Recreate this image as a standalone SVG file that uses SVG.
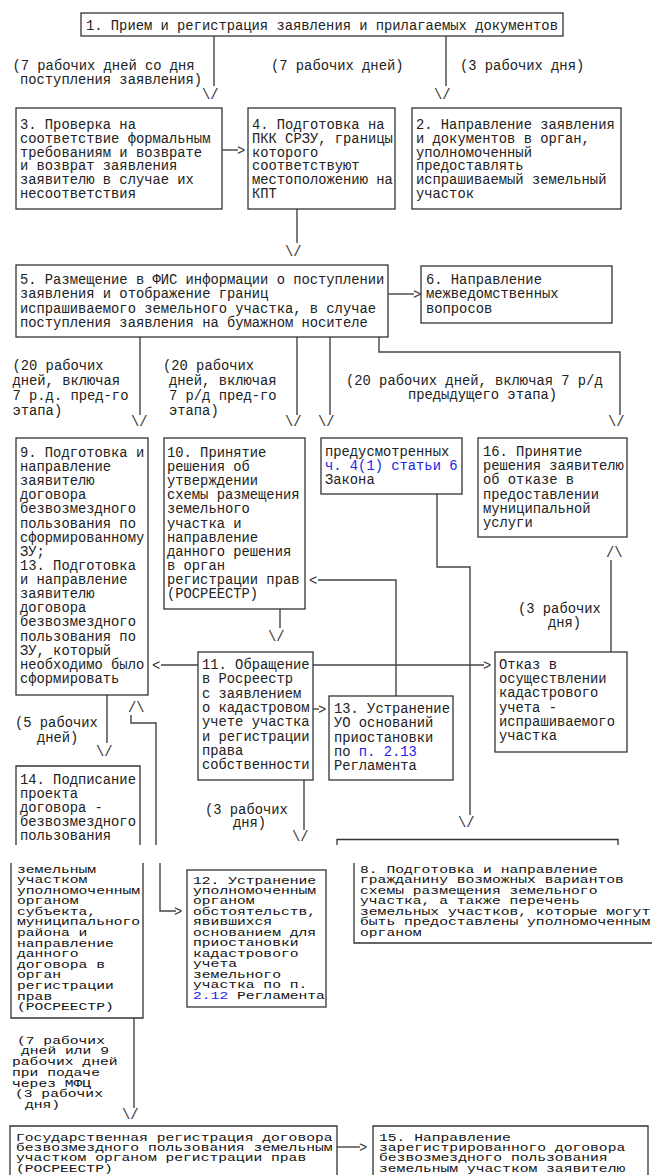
<svg xmlns="http://www.w3.org/2000/svg" width="652" height="1175" viewBox="0 0 652 1175">
<defs>
<style>
.t{font-family:"Liberation Mono","Courier New",monospace;font-size:13.8px;fill:#222}
.lo{font-family:"Liberation Mono","Courier New",monospace;font-size:11px;fill:#111}
.bl{fill:#2323e8}
.box{fill:#fff;stroke:#333;stroke-width:1.3}
.ob{fill:none;stroke:#333;stroke-width:1.3}
.ln{fill:none;stroke:#444;stroke-width:1.4}
.ah{font-family:"Liberation Mono","Courier New",monospace;font-size:13.8px;fill:#333}
</style>
<clipPath id="lowpage"><rect x="0" y="864" width="652" height="311"/></clipPath>
</defs>
<rect width="652" height="1175" fill="#fff"/>

<g id="connectors">
<line class="ln" x1="214" y1="36" x2="214" y2="86"/>
<text class="ah" x="202" y="99">\/</text>
<line class="ln" x1="446" y1="36" x2="446" y2="86"/>
<text class="ah" x="434" y="99">\/</text>
<line class="ln" x1="222" y1="150" x2="238" y2="150"/>
<text class="ah" x="237" y="154.5">&gt;</text>
<line class="ln" x1="297" y1="209" x2="297" y2="243"/>
<text class="ah" x="285" y="256">\/</text>
<line class="ln" x1="388" y1="294" x2="414" y2="294"/>
<text class="ah" x="413" y="298.5">&gt;</text>
<line class="ln" x1="140" y1="337" x2="140" y2="415"/>
<text class="ah" x="131" y="426">\/</text>
<line class="ln" x1="297" y1="337" x2="297" y2="415"/>
<text class="ah" x="285" y="426">\/</text>
<line class="ln" x1="330" y1="337" x2="330" y2="415"/>
<text class="ah" x="318" y="426">\/</text>
<polyline class="ln" points="379,337 379,352 620,352 620,415"/>
<text class="ah" x="608" y="426">\/</text>
<line class="ln" x1="280" y1="609" x2="280" y2="628"/>
<text class="ah" x="268" y="641">\/</text>
<polyline class="ln" points="437,494 437,567 470,567 470,815"/>
<text class="ah" x="458" y="827">\/</text>
<polyline class="ln" points="396,696 396,580 318,580"/>
<text class="ah" x="309" y="584.5">&lt;</text>
<line class="ln" x1="611" y1="652" x2="611" y2="560"/>
<text class="ah" x="606" y="557">/\</text>
<line class="ln" x1="161" y1="665" x2="198" y2="665"/>
<text class="ah" x="152" y="669.5">&lt;</text>
<line class="ln" x1="313" y1="665" x2="484" y2="665"/>
<text class="ah" x="483" y="669.5">&gt;</text>
<line class="ln" x1="313" y1="709" x2="319" y2="709"/>
<text class="ah" x="318" y="713.5">&gt;</text>
<line class="ln" x1="107" y1="695" x2="107" y2="743"/>
<text class="ah" x="96" y="756">\/</text>
<text class="ah" x="128" y="712">/\</text>
<polyline class="ln" points="131,715 131,723 156,723 156,845"/>
<polyline class="ln" points="160,863 160,911 176,911"/>
<text class="ah" x="174" y="915.5">&gt;</text>
<line class="ln" x1="304" y1="780" x2="304" y2="830"/>
<text class="ah" x="292" y="841">\/</text>
<line class="ln" x1="134" y1="1018" x2="134" y2="1108"/>
<text class="ah" x="122" y="1119">\/</text>
<line class="ln" x1="337" y1="1147" x2="360" y2="1147"/>
<text class="ah" x="359" y="1151.5">&gt;</text>
</g>

<g id="labels">
<text class="t" x="12.5" y="69.5">(7 рабочих дней со дня<tspan x="20" dy="14.5">поступления заявления)</tspan></text>
<text class="t" x="271" y="69.5">(7 рабочих дней)</text>
<text class="t" x="460" y="69.5">(3 рабочих дня)</text>
<text class="t" x="12.5" y="369.5">(20 рабочих<tspan x="12.5" dy="15">дней, включая</tspan><tspan x="12.5" dy="15">7 р.д. пред-го</tspan><tspan x="12.5" dy="15">этапа)</tspan></text>
<text class="t" x="163" y="369.5">(20 рабочих<tspan x="169" dy="15">дней, включая</tspan><tspan x="169" dy="15">7 р/д пред-го</tspan><tspan x="169" dy="15">этапа)</tspan></text>
<text class="t" x="346" y="385">(20 рабочих дней, включая 7 р/д<tspan x="408" dy="14">предыдущего этапа)</tspan></text>
<text class="t" x="518" y="613">(3 рабочих<tspan x="548" dy="14">дня)</tspan></text>
<text class="t" x="15" y="727">(5 рабочих<tspan x="37" dy="15">дней)</tspan></text>
<text class="t" x="205" y="814">(3 рабочих<tspan x="233" dy="13">дня)</tspan></text>
<text class="lo" transform="translate(12,1043.5) scale(1.333,1)"><tspan x="3.75" y="0">(7 рабочих</tspan><tspan x="6.75" dy="10.8">дней или 9</tspan><tspan x="0" dy="10.8">рабочих дней</tspan><tspan x="0" dy="10.8">при подаче</tspan><tspan x="0" dy="10.8">через МФЦ</tspan><tspan x="2.25" dy="10.8">(3 рабочих</tspan><tspan x="9.75" dy="10.8">дня)</tspan></text>
</g>

<g id="n1">
<rect class="box" x="81" y="13" width="482" height="23"/>
<text class="t" x="86" y="29.7">1. Прием и регистрация заявления и прилагаемых документов</text>
</g>

<g id="n3">
<rect class="box" x="16" y="108" width="206" height="101"/>
<text class="t" x="20" y="129">3. Проверка на<tspan x="20" dy="13.8">соответствие формальным</tspan><tspan x="20" dy="13.8">требованиям и возврате</tspan><tspan x="20" dy="13.8">и возврат заявления</tspan><tspan x="20" dy="13.8">заявителю в случае их</tspan><tspan x="20" dy="13.8">несоответствия</tspan></text>
</g>

<g id="n4">
<rect class="box" x="248" y="108" width="147" height="101"/>
<text class="t" x="252" y="129">4. Подготовка на<tspan x="252" dy="13.8">ПКК СРЗУ, границы</tspan><tspan x="252" dy="13.8">которого</tspan><tspan x="252" dy="13.8">соответствуют</tspan><tspan x="252" dy="13.8">местоположению на</tspan><tspan x="252" dy="13.8">КПТ</tspan></text>
</g>

<g id="n2">
<rect class="box" x="412" y="108" width="209" height="101"/>
<text class="t" x="416" y="129">2. Направление заявления<tspan x="416" dy="13.8">и документов в орган,</tspan><tspan x="416" dy="13.8">уполномоченный</tspan><tspan x="416" dy="13.8">предоставлять</tspan><tspan x="416" dy="13.8">испрашиваемый земельный</tspan><tspan x="416" dy="13.8">участок</tspan></text>
</g>

<g id="n5">
<rect class="box" x="16" y="265" width="372" height="72"/>
<text class="t" x="20" y="284">5. Размещение в ФИС информации о поступлении<tspan x="20" dy="14.3">заявления и отображение границ</tspan><tspan x="20" dy="14.3">испрашиваемого земельного участка, в случае</tspan><tspan x="20" dy="14.3">поступления заявления на бумажном носителе</tspan></text>
</g>

<g id="n6">
<rect class="box" x="421" y="266" width="191" height="57"/>
<text class="t" x="426" y="284">6. Направление<tspan x="426" dy="14.3">межведомственных</tspan><tspan x="426" dy="14.3">вопросов</tspan></text>
</g>

<g id="n9">
<rect class="box" x="16" y="438" width="132" height="257"/>
<text class="t" x="20" y="457">9. Подготовка и<tspan x="20" dy="14.12">направление</tspan><tspan x="20" dy="14.12">заявителю</tspan><tspan x="20" dy="14.12">договора</tspan><tspan x="20" dy="14.12">безвозмездного</tspan><tspan x="20" dy="14.12">пользования по</tspan><tspan x="20" dy="14.12">сформированному</tspan><tspan x="20" dy="14.12">ЗУ;</tspan><tspan x="20" dy="14.12">13. Подготовка</tspan><tspan x="20" dy="14.12">и направление</tspan><tspan x="20" dy="14.12">заявителю</tspan><tspan x="20" dy="14.12">договора</tspan><tspan x="20" dy="14.12">безвозмездного</tspan><tspan x="20" dy="14.12">пользования по</tspan><tspan x="20" dy="14.12">ЗУ, который</tspan><tspan x="20" dy="14.12">необходимо было</tspan><tspan x="20" dy="14.12">сформировать</tspan></text>
</g>

<g id="n10">
<rect class="box" x="164" y="438" width="141" height="171"/>
<text class="t" x="167" y="457">10. Принятие<tspan x="167" dy="14.12">решения об</tspan><tspan x="167" dy="14.12">утверждении</tspan><tspan x="167" dy="14.12">схемы размещения</tspan><tspan x="167" dy="14.12">земельного</tspan><tspan x="167" dy="14.12">участка и</tspan><tspan x="167" dy="14.12">направление</tspan><tspan x="167" dy="14.12">данного решения</tspan><tspan x="167" dy="14.12">в орган</tspan><tspan x="167" dy="14.12">регистрации прав</tspan><tspan x="167" dy="14.12">(РОСРЕЕСТР)</tspan></text>
</g>

<g id="n7">
<rect class="box" x="321" y="438" width="141" height="56"/>
<text class="t" x="325" y="456">предусмотренных<tspan x="325" dy="14" class="bl">ч. 4(1) статьи 6</tspan><tspan x="325" dy="14">Закона</tspan></text>
</g>

<g id="n16">
<rect class="box" x="478" y="438" width="149" height="99"/>
<text class="t" x="483" y="456">16. Принятие<tspan x="483" dy="14.2">решения заявителю</tspan><tspan x="483" dy="14.2">об отказе в</tspan><tspan x="483" dy="14.2">предоставлении</tspan><tspan x="483" dy="14.2">муниципальной</tspan><tspan x="483" dy="14.2">услуги</tspan></text>
</g>

<g id="n11">
<rect class="box" x="198" y="652" width="115" height="128"/>
<text class="t" x="202" y="669">11. Обращение<tspan x="202" dy="14.3">в Росреестр</tspan><tspan x="202" dy="14.3">с заявлением</tspan><tspan x="202" dy="14.3">о кадастровом</tspan><tspan x="202" dy="14.3">учете участка</tspan><tspan x="202" dy="14.3">и регистрации</tspan><tspan x="202" dy="14.3">права</tspan><tspan x="202" dy="14.3">собственности</tspan></text>
</g>

<g id="n_otkaz">
<rect class="box" x="495" y="652" width="132" height="100"/>
<text class="t" x="499" y="669">Отказ в<tspan x="499" dy="14.2">осуществлении</tspan><tspan x="499" dy="14.2">кадастрового</tspan><tspan x="499" dy="14.2">учета -</tspan><tspan x="499" dy="14.2">испрашиваемого</tspan><tspan x="499" dy="14.2">участка</tspan></text>
</g>

<g id="n13">
<rect class="box" x="329" y="696" width="124" height="84"/>
<text class="t" x="334" y="713">13. Устранение<tspan x="334" dy="14.25">УО оснований</tspan><tspan x="334" dy="14.25">приостановки</tspan><tspan x="334" dy="14.25">по <tspan class="bl">п. 2.13</tspan></tspan><tspan x="334" dy="14.25">Регламента</tspan></text>
</g>

<g id="n14">
<path class="ob" d="M16,845 V766 H140 V845"/>
<text class="t" x="20" y="784">14. Подписание<tspan x="20" dy="14.1">проекта</tspan><tspan x="20" dy="14.1">договора -</tspan><tspan x="20" dy="14.1">безвозмездного</tspan><tspan x="20" dy="14.1">пользования</tspan></text>
<path class="ob" d="M11,863 V1018 H143 V863"/>
<g clip-path="url(#lowpage)">
<text class="lo" transform="translate(17,872.5) scale(1.333,1)"><tspan x="0" y="0">земельным</tspan><tspan x="0" dy="10.6">участком</tspan><tspan x="0" dy="10.6">уполномоченным</tspan><tspan x="0" dy="10.6">органом</tspan><tspan x="0" dy="10.6">субъекта,</tspan><tspan x="0" dy="10.6">муниципального</tspan><tspan x="0" dy="10.6">района и</tspan><tspan x="0" dy="10.6">направление</tspan><tspan x="0" dy="10.6">данного</tspan><tspan x="0" dy="10.6">договора в</tspan><tspan x="0" dy="10.6">орган</tspan><tspan x="0" dy="10.6">регистрации</tspan><tspan x="0" dy="10.6">прав</tspan><tspan x="0" dy="10.6">(РОСРЕЕСТР)</tspan></text>
</g>
</g>

<g id="n8">
<path class="ob" d="M337,845 V839.5 H618 V845"/>
<path class="ob" d="M354,863 V943 H653"/>
<text class="lo" transform="translate(360,872.5) scale(1.333,1)"><tspan x="0" y="0">8. Подготовка и направление</tspan><tspan x="0" dy="10.6">гражданину возможных вариантов</tspan><tspan x="0" dy="10.6">схемы размещения земельного</tspan><tspan x="0" dy="10.6">участка, а также перечень</tspan><tspan x="0" dy="10.6">земельных участков, которые могут</tspan><tspan x="0" dy="10.6">быть предоставлены уполномоченным</tspan><tspan x="0" dy="10.6">органом</tspan></text>
</g>

<g id="n12">
<rect class="box" x="187" y="870" width="139" height="137"/>
<text class="lo" transform="translate(193,883.5) scale(1.333,1)"><tspan x="0" y="0">12. Устранение</tspan><tspan x="0" dy="10.5">уполномоченным</tspan><tspan x="0" dy="10.5">органом</tspan><tspan x="0" dy="10.5">обстоятельств,</tspan><tspan x="0" dy="10.5">явившихся</tspan><tspan x="0" dy="10.5">основанием для</tspan><tspan x="0" dy="10.5">приостановки</tspan><tspan x="0" dy="10.5">кадастрового</tspan><tspan x="0" dy="10.5">учета</tspan><tspan x="0" dy="10.5">земельного</tspan><tspan x="0" dy="10.5">участка по п.</tspan><tspan x="0" dy="10.5"><tspan class="bl">2.12</tspan> Регламента</tspan></text>
</g>

<g id="n_gr">
<path class="ob" d="M10,1176 V1126 H337 V1176"/>
<text class="lo" transform="translate(16,1140.5) scale(1.333,1)"><tspan x="0" y="0">Государственная регистрация договора</tspan><tspan x="0" dy="10.4">безвозмездного пользования земельным</tspan><tspan x="0" dy="10.4">участком органом регистрации прав</tspan><tspan x="0" dy="10.4">(РОСРЕЕСТР)</tspan></text>
</g>

<g id="n15">
<path class="ob" d="M373,1176 V1126 H648 V1176"/>
<text class="lo" transform="translate(379,1140.5) scale(1.333,1)"><tspan x="0" y="0">15. Направление</tspan><tspan x="0" dy="10.4">зарегистрированного договора</tspan><tspan x="0" dy="10.4">безвозмездного пользования</tspan><tspan x="0" dy="10.4">земельным участком заявителю</tspan></text>
</g>
</svg>
